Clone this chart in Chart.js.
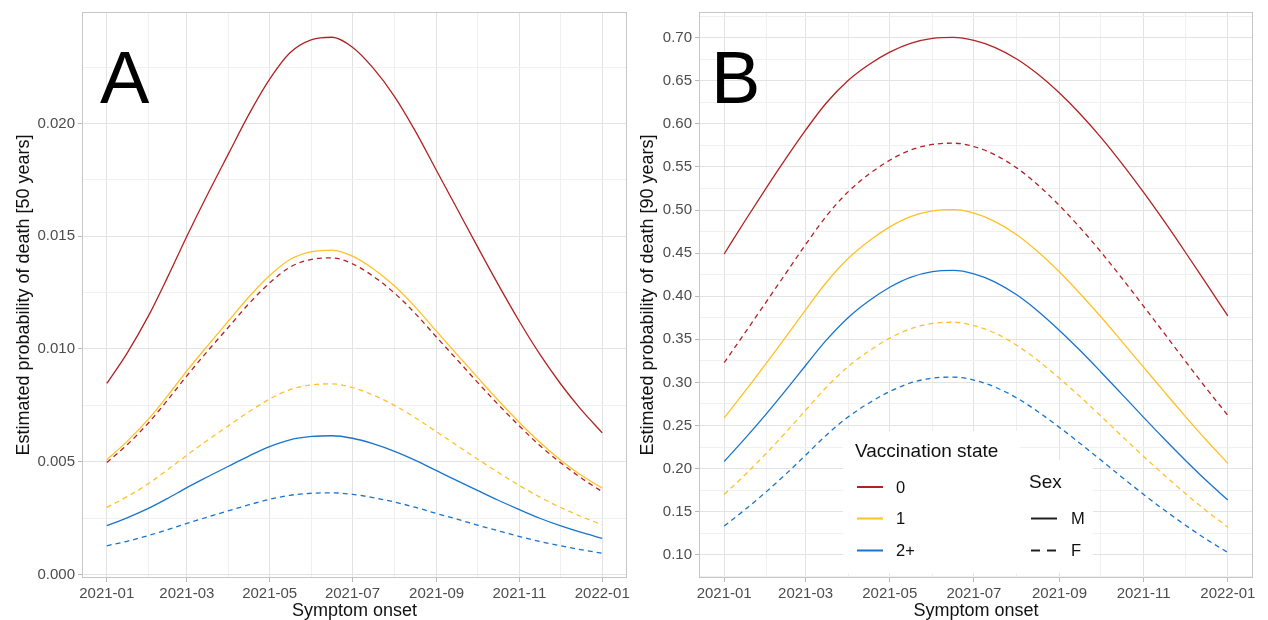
<!DOCTYPE html>
<html>
<head>
<meta charset="utf-8">
<script src="https://cdn.jsdelivr.net/npm/chart.js@4.4.1/dist/chart.umd.min.js"></script>
<style>
  html, body { margin: 0; padding: 0; background: #fff; overflow: hidden; }
  #wrap { position: relative; width: 1268px; height: 620px; }
  #cA { position: absolute; left: 0; top: 0; }
  #cB { position: absolute; left: 634px; top: 0; }
</style>
</head>
<body>
<div id="wrap">
  <canvas id="cA" width="634" height="620"></canvas>
  <canvas id="cB" width="634" height="620"></canvas>
</div>
<script>
// ---- Data -------------------------------------------------------------
const onsetDates = ['2021-01-01','2021-01-16','2021-02-01','2021-02-15','2021-03-01','2021-03-16',
                    '2021-04-01','2021-04-16','2021-05-01','2021-05-16','2021-06-01','2021-06-16',
                    '2021-07-01','2021-07-16','2021-08-01','2021-08-16','2021-09-01','2021-09-16',
                    '2021-10-01','2021-10-16','2021-11-01','2021-11-16','2021-12-01','2021-12-16',
                    '2022-01-01'];

// Panel A: estimated probability of death, 50 years
const a_v0_M = [0.00847, 0.00982, 0.01150, 0.01321, 0.01500, 0.01683, 0.01870, 0.02044, 0.02197, 0.02314, 0.02372, 0.02383, 0.02339,
                0.02248, 0.02120, 0.01970, 0.01791, 0.01623, 0.01455, 0.01290, 0.01122, 0.00977, 0.00848, 0.00734, 0.00628];
const a_v0_F = [0.00496, 0.00575, 0.00674, 0.00775, 0.00881, 0.00989, 0.01099, 0.01203, 0.01293, 0.01363, 0.01398, 0.01404, 0.01378,
                0.01324, 0.01248, 0.01159, 0.01052, 0.00953, 0.00853, 0.00756, 0.00658, 0.00572, 0.00497, 0.00430, 0.00367];
const a_v1_M = [0.00508, 0.00590, 0.00691, 0.00794, 0.00903, 0.01013, 0.01127, 0.01233, 0.01326, 0.01397, 0.01432, 0.01439, 0.01412,
                0.01357, 0.01279, 0.01188, 0.01078, 0.00976, 0.00875, 0.00775, 0.00674, 0.00586, 0.00509, 0.00442, 0.00383];
const a_v1_F = [0.00297, 0.00345, 0.00404, 0.00465, 0.00529, 0.00594, 0.00661, 0.00723, 0.00778, 0.00820, 0.00841, 0.00845, 0.00829,
                0.00796, 0.00750, 0.00696, 0.00632, 0.00572, 0.00512, 0.00454, 0.00394, 0.00343, 0.00298, 0.00258, 0.00220];
const a_v2_M = [0.00216, 0.00251, 0.00294, 0.00338, 0.00385, 0.00432, 0.00481, 0.00526, 0.00567, 0.00597, 0.00612, 0.00615, 0.00604,
                0.00580, 0.00546, 0.00507, 0.00460, 0.00416, 0.00373, 0.00330, 0.00287, 0.00249, 0.00216, 0.00187, 0.00160];
const a_v2_F = [0.00127, 0.00147, 0.00173, 0.00199, 0.00226, 0.00254, 0.00283, 0.00309, 0.00333, 0.00351, 0.00360, 0.00362, 0.00355,
                0.00341, 0.00321, 0.00298, 0.00270, 0.00245, 0.00219, 0.00194, 0.00168, 0.00146, 0.00127, 0.00110, 0.00094];

// Panel B: estimated probability of death, 90 years
const b_v0_M = [0.4490, 0.4873, 0.5269, 0.5605, 0.5927, 0.6242, 0.6506, 0.6689, 0.6832, 0.6934, 0.6991, 0.7003, 0.6969,
                0.6888, 0.6753, 0.6581, 0.6357, 0.6115, 0.5844, 0.5545, 0.5204, 0.4867, 0.4516, 0.4157, 0.3772];
const b_v0_F = [0.3228, 0.3574, 0.3946, 0.4273, 0.4599, 0.4929, 0.5214, 0.5417, 0.5578, 0.5696, 0.5761, 0.5776, 0.5736,
                0.5643, 0.5489, 0.5297, 0.5052, 0.4794, 0.4514, 0.4214, 0.3883, 0.3568, 0.3251, 0.2939, 0.2617];
const b_v1_M = [0.2589, 0.2895, 0.3232, 0.3535, 0.3842, 0.4159, 0.4440, 0.4641, 0.4804, 0.4923, 0.4990, 0.5004, 0.4964,
                0.4869, 0.4714, 0.4521, 0.4280, 0.4029, 0.3761, 0.3479, 0.3175, 0.2890, 0.2609, 0.2337, 0.2061];
const b_v1_F = [0.1699, 0.1927, 0.2185, 0.2426, 0.2676, 0.2943, 0.3186, 0.3365, 0.3513, 0.3622, 0.3685, 0.3698, 0.3660,
                0.3573, 0.3431, 0.3259, 0.3047, 0.2833, 0.2609, 0.2381, 0.2141, 0.1923, 0.1713, 0.1516, 0.1320];
const b_v2_M = [0.2082, 0.2347, 0.2644, 0.2916, 0.3196, 0.3490, 0.3754, 0.3947, 0.4104, 0.4219, 0.4285, 0.4299, 0.4260,
                0.4167, 0.4016, 0.3832, 0.3603, 0.3369, 0.3121, 0.2867, 0.2594, 0.2343, 0.2100, 0.1867, 0.1635];
const b_v2_F = [0.1333, 0.1522, 0.1738, 0.1941, 0.2155, 0.2387, 0.2601, 0.2761, 0.2894, 0.2993, 0.3050, 0.3061, 0.3027,
                0.2947, 0.2820, 0.2665, 0.2478, 0.2291, 0.2098, 0.1903, 0.1700, 0.1518, 0.1346, 0.1184, 0.1026];

// Axis ticks
const xTickLabels  = ['2021-01','2021-03','2021-05','2021-07','2021-09','2021-11','2022-01'];
const xMinorMonths = ['2021-02','2021-04','2021-06','2021-08','2021-10','2021-12'];
const yTickLabelsA = ['0.000','0.005','0.010','0.015','0.020'];
const yTickLabelsB = ['0.10','0.15','0.20','0.25','0.30','0.35','0.40','0.45','0.50','0.55','0.60','0.65','0.70'];

const vaccStates = ['0', '1', '2+'];
const sexes = ['M', 'F'];

// ---- Styling ----------------------------------------------------------
const FONT = '"Liberation Sans", Arial, Helvetica, sans-serif';
const stateColors = { '0': '#B22222', '1': '#FFC125', '2+': '#1874CD' };
const sexDash = { 'M': [], 'F': [5, 4] };

// ---- Helpers ----------------------------------------------------------
const DAY0 = Date.UTC(2021, 0, 1);
function dayOf(s) {
  const p = s.split('-').map(Number);
  return (Date.UTC(p[0], p[1] - 1, p[2] || 1) - DAY0) / 864e5;
}
const xDays = onsetDates.map(dayOf);
const xMajor = xTickLabels.map(dayOf);
const xMinor = xMinorMonths.map(dayOf);
const xSpan = xDays[xDays.length - 1] - xDays[0];
const xMin = xDays[0] - 0.05 * xSpan, xMax = xDays[xDays.length - 1] + 0.05 * xSpan;

function series(values) { return values.map((v, i) => ({ x: xDays[i], y: v })); }

function yTicks(labels, lo, hi) {
  const major = labels.map(parseFloat);
  const step = major[1] - major[0];
  const minor = [];
  for (let i = -1; i < major.length; i++) {
    const v = major[0] + (i + 0.5) * step;
    if (v > lo && v < hi) minor.push(v);
  }
  return { major, minor };
}

function isMajor(list, v) { return list.some(m => Math.abs(m - v) < 1e-9); }

function makeChart(canvas, cfg) {
  const yt = yTicks(cfg.yLabels, cfg.yMin, cfg.yMax);
  const datasets = cfg.series.map(s => ({
    label: s.state + ' ' + s.sex,
    data: series(s.values),
    borderColor: stateColors[s.state],
    borderDash: sexDash[s.sex],
    borderWidth: 1.3,
    pointRadius: 0,
    cubicInterpolationMode: 'monotone',
    fill: false
  }));
  const gridStyle = (majors) => ({
    color: ctx => (ctx.tick && isMajor(majors, ctx.tick.value)) ? '#E3E3E3' : '#F0F0F0',
    lineWidth: 1,
    tickColor: ctx => (ctx.tick && isMajor(majors, ctx.tick.value)) ? '#B8B8B8' : 'rgba(0,0,0,0)',
    tickLength: 4,
    drawTicks: true
  });
  return new Chart(canvas, {
    type: 'line',
    data: { datasets },
    options: {
      responsive: false,
      animation: false,
      devicePixelRatio: 1,
      layout: { padding: { left: 0, top: 11, right: cfg.padRight, bottom: 0 } },
      plugins: {
        legend: { display: false },
        tooltip: { enabled: false },
        panelDecor: cfg.decor
      },
      scales: {
        x: {
          type: 'linear',
          min: xMin, max: xMax,
          afterBuildTicks: sc => {
            sc.ticks = xMajor.concat(xMinor).sort((a, b) => a - b).map(v => ({ value: v }));
          },
          afterFit: sc => { sc.height = 42; },
          ticks: {
            autoSkip: false, maxRotation: 0, minRotation: 0, padding: 3,
            color: '#4D4D4D', font: { family: FONT, size: 15 },
            callback: v => { const i = xMajor.indexOf(v); return i >= 0 ? xTickLabels[i] : ''; }
          },
          grid: gridStyle(xMajor),
          border: { display: false },
          title: {
            display: true, text: 'Symptom onset', color: '#111',
            font: { family: FONT, size: 18 }, padding: { top: 0, bottom: -2 }
          }
        },
        y: {
          type: 'linear',
          min: cfg.yMin, max: cfg.yMax,
          afterBuildTicks: sc => {
            sc.ticks = yt.major.concat(yt.minor).sort((a, b) => a - b).map(v => ({ value: v }));
          },
          afterFit: sc => { sc.width = cfg.yWidth; },
          ticks: {
            autoSkip: false, padding: 3,
            color: '#4D4D4D', font: { family: FONT, size: 15 },
            callback: v => {
              const i = yt.major.findIndex(m => Math.abs(m - v) < 1e-9);
              return i >= 0 ? cfg.yLabels[i] : '';
            }
          },
          grid: gridStyle(yt.major),
          border: { display: false },
          title: {
            display: true, text: cfg.yTitle, color: '#111',
            font: { family: FONT, size: 18 }, padding: { top: cfg.yTitlePad, bottom: 0 }
          }
        }
      }
    },
    plugins: [panelDecor]
  });
}

// Panel letter, panel border and (optionally) the two-part legend
const panelDecor = {
  id: 'panelDecor',
  afterDatasetsDraw(chart, args, opts) {
    const { ctx, chartArea: a } = chart;
    ctx.save();
    if (opts.legend) drawLegend(ctx, opts.legend);
    ctx.strokeStyle = '#C6C6C6';
    ctx.lineWidth = 1;
    ctx.setLineDash([]);
    ctx.strokeRect(Math.round(a.left) + 0.5, Math.round(a.top) + 0.5,
                   Math.round(a.right - a.left) - 1, Math.round(a.bottom - a.top) - 1);
    ctx.fillStyle = '#000';
    ctx.font = '74px ' + FONT;
    ctx.textAlign = 'left';
    ctx.textBaseline = 'alphabetic';
    ctx.fillText(opts.letter, opts.letterX, opts.letterY);
    ctx.restore();
  }
};

function drawLegend(ctx, L) {
  ctx.fillStyle = '#fff';
  ctx.fillRect(L.vx, L.top, L.sx - L.vx, L.bottom - L.top);
  ctx.fillRect(L.sx, L.sexTop, L.sRight - L.sx, L.bottom - L.sexTop);

  ctx.fillStyle = '#111';
  ctx.textAlign = 'left';
  ctx.textBaseline = 'alphabetic';
  ctx.font = '19px ' + FONT;
  ctx.fillText('Vaccination state', L.vx + 12, L.titleY);
  ctx.fillText('Sex', L.sx + 9, L.sexTitleY);

  ctx.lineWidth = 2;
  ctx.font = '16.5px ' + FONT;
  ctx.textBaseline = 'middle';
  vaccStates.forEach((s, i) => {
    const y = L.rowsV[i];
    ctx.strokeStyle = stateColors[s];
    ctx.setLineDash([]);
    ctx.beginPath(); ctx.moveTo(L.vx + 14, y); ctx.lineTo(L.vx + 40, y); ctx.stroke();
    ctx.fillStyle = '#111';
    ctx.fillText(s, L.vx + 53, y + 1);
  });
  sexes.forEach((s, i) => {
    const y = L.rowsS[i];
    ctx.strokeStyle = '#222';
    ctx.setLineDash(s === 'F' ? [9, 7] : []);
    ctx.beginPath(); ctx.moveTo(L.sx + 11, y); ctx.lineTo(L.sx + 37, y); ctx.stroke();
    ctx.setLineDash([]);
    ctx.fillStyle = '#111';
    ctx.fillText(s, L.sx + 51, y + 1);
  });
}

// ---- Panel A ----------------------------------------------------------
makeChart(document.getElementById('cA'), {
  yLabels: yTickLabelsA, yMin: -0.00016, yMax: 0.02495,
  yWidth: 82, padRight: 7, yTitlePad: 13,
  yTitle: 'Estimated probability of death [50 years]',
  series: [
    { state: '0',  sex: 'M', values: a_v0_M },
    { state: '0',  sex: 'F', values: a_v0_F },
    { state: '1',  sex: 'M', values: a_v1_M },
    { state: '1',  sex: 'F', values: a_v1_F },
    { state: '2+', sex: 'M', values: a_v2_M },
    { state: '2+', sex: 'F', values: a_v2_F }
  ],
  decor: { letter: 'A', letterX: 100, letterY: 103 }
});

// ---- Panel B ----------------------------------------------------------
makeChart(document.getElementById('cB'), {
  yLabels: yTickLabelsB, yMin: 0.0730, yMax: 0.7298,
  yWidth: 65, padRight: 15, yTitlePad: 3,
  yTitle: 'Estimated probability of death [90 years]',
  series: [
    { state: '0',  sex: 'M', values: b_v0_M },
    { state: '0',  sex: 'F', values: b_v0_F },
    { state: '1',  sex: 'M', values: b_v1_M },
    { state: '1',  sex: 'F', values: b_v1_F },
    { state: '2+', sex: 'M', values: b_v2_M },
    { state: '2+', sex: 'F', values: b_v2_F }
  ],
  decor: {
    letter: 'B', letterX: 77, letterY: 103,
    legend: {
      vx: 209, sx: 386, sRight: 459,
      top: 431, sexTop: 460, bottom: 573,
      titleY: 457, sexTitleY: 488,
      rowsV: [487, 518.5, 550.5],
      rowsS: [518.5, 550.5]
    }
  }
});
</script>
</body>
</html>
